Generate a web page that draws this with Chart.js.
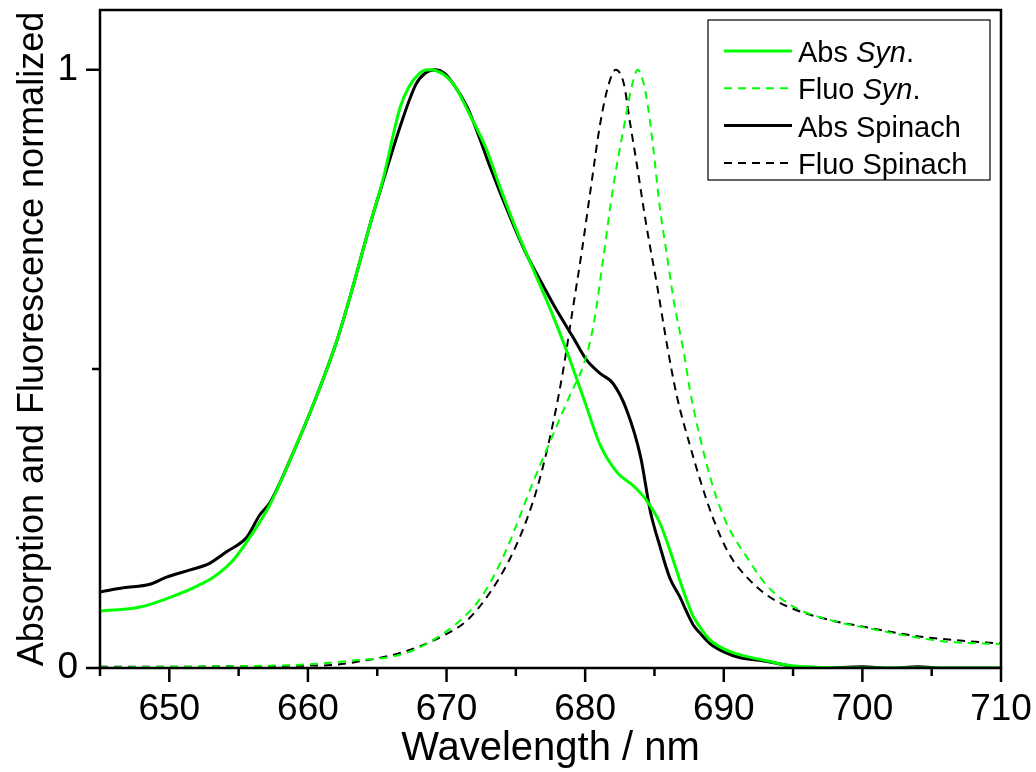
<!DOCTYPE html>
<html>
<head>
<meta charset="utf-8">
<script src="https://cdn.jsdelivr.net/npm/chart.js@4"></script>
<style>
  body { margin: 0; background: #fff; }
  canvas { display: block; }
</style>
</head>
<body>
<canvas id="spectra" width="1036" height="772"></canvas>
<script>
// wavelength (nm) / normalized value
const absSynNm  = [645.0, 647.9, 650.5, 652.0, 653.2, 654.6, 656.0, 657.3, 658.9, 660.6, 662.1, 663.3, 664.5, 665.4, 666.65, 667.3, 668.0, 668.6, 669.3, 670.5, 671.7, 672.9, 673.9, 675.1, 676.3, 677.5, 678.7, 679.9, 681.1, 682.3, 683.5, 684.4, 685.4, 686.4, 686.85, 687.3, 687.8, 688.3, 689.0, 690.0, 691.2, 693.1, 694.8, 697.0, 700.0, 705.0, 710.0];
const absSynVal = [0.095, 0.102, 0.122, 0.137, 0.152, 0.180, 0.225, 0.275, 0.358, 0.453, 0.548, 0.642, 0.743, 0.815, 0.937, 0.972, 0.993, 1.000, 0.998, 0.976, 0.924, 0.866, 0.801, 0.729, 0.664, 0.599, 0.528, 0.450, 0.372, 0.327, 0.304, 0.281, 0.242, 0.177, 0.145, 0.115, 0.086, 0.068, 0.047, 0.032, 0.022, 0.012, 0.004, 0.001, 0.000, 0.000, 0.000];

const fluoSynNm  = [645.0, 650.0, 655.0, 660.0, 663.0, 666.65, 668.6, 671.0, 672.7, 674.3, 676.3, 677.7, 678.9, 679.9, 680.6, 681.3, 682.0, 682.8, 683.4, 683.8, 684.4, 684.9, 685.4, 685.9, 686.4, 687.1, 687.57, 688.29, 689.25, 690.2, 691.7, 693.1, 695.0, 697.7, 700.3, 703.2, 706.1, 710.0];
const fluoSynVal = [0.001, 0.002, 0.003, 0.006, 0.012, 0.022, 0.041, 0.080, 0.125, 0.197, 0.314, 0.391, 0.456, 0.508, 0.573, 0.684, 0.801, 0.905, 0.976, 1.000, 0.957, 0.872, 0.768, 0.690, 0.613, 0.530, 0.463, 0.385, 0.301, 0.242, 0.184, 0.138, 0.103, 0.080, 0.067, 0.054, 0.044, 0.040];

const absSpinNm  = [645.0, 646.7, 648.6, 649.8, 651.5, 652.9, 654.1, 655.6, 656.5, 657.3, 658.9, 660.6, 662.1, 663.3, 664.5, 665.4, 666.65, 667.8, 668.5, 669.2, 669.8, 670.5, 671.5, 672.4, 673.1, 674.8, 675.8, 677.0, 677.9, 679.1, 680.1, 681.1, 682.0, 683.0, 684.0, 684.7, 685.4, 686.1, 686.85, 687.3, 687.8, 688.3, 689.0, 690.0, 691.2, 692.8, 693.8, 694.4, 695.0, 697.0, 700.0, 702.0, 704.0, 706.0, 710.0];
const absSpinVal = [0.127, 0.134, 0.140, 0.152, 0.164, 0.175, 0.194, 0.219, 0.255, 0.278, 0.358, 0.453, 0.548, 0.642, 0.743, 0.812, 0.905, 0.976, 0.995, 1.000, 0.995, 0.976, 0.937, 0.885, 0.840, 0.742, 0.690, 0.638, 0.600, 0.554, 0.515, 0.492, 0.476, 0.431, 0.353, 0.262, 0.203, 0.151, 0.118, 0.095, 0.072, 0.058, 0.041, 0.027, 0.017, 0.012, 0.008, 0.005, 0.001, 0.000, 0.002, 0.000, 0.002, 0.000, 0.000];

const fluoSpinNm  = [645.0, 650.0, 655.0, 660.0, 661.8, 664.2, 666.65, 669.5, 671.5, 673.1, 674.6, 675.8, 676.7, 677.7, 678.4, 679.1, 679.8, 680.4, 681.1, 681.7, 682.2, 682.8, 683.2, 683.7, 684.4, 685.2, 685.9, 686.6, 687.6, 688.3, 689.25, 690.4, 691.7, 693.1, 695.0, 697.7, 700.3, 703.7, 706.5, 710.0];
const fluoSpinVal = [0.002, 0.002, 0.003, 0.004, 0.005, 0.013, 0.025, 0.051, 0.080, 0.125, 0.184, 0.249, 0.314, 0.411, 0.496, 0.599, 0.703, 0.801, 0.912, 0.976, 1.000, 0.976, 0.917, 0.846, 0.742, 0.638, 0.541, 0.456, 0.369, 0.314, 0.249, 0.190, 0.151, 0.122, 0.099, 0.080, 0.068, 0.054, 0.047, 0.041];

const seriesLabels = ['Abs Syn.', 'Fluo Syn.', 'Abs Spinach', 'Fluo Spinach'];
const xMajorTicks = [650, 660, 670, 680, 690, 700, 710];
const xMinorTicks = [645, 655, 665, 675, 685, 695, 705];
const yMajorTicks = [0, 1];
const yMinorTicks = [0.5];

const FONT = "'Liberation Sans', Arial, sans-serif";
const GREEN = '#00ff00';

function pts(xs, ys) {
    return xs.map((x, i) => ({ x: x, y: ys[i] }));
}

// no extra room for overhanging tick labels
function noPad(s) {
    s.paddingTop = 0; s.paddingBottom = 0; s.paddingLeft = 0; s.paddingRight = 0;
}

// frame, tick marks and the legend with italic "Syn"
const decorations = {
    id: 'decorations',
    afterDraw(chart) {
        const ctx = chart.ctx;
        const a = chart.chartArea;
        const xs = chart.scales.x, ys = chart.scales.y;
        ctx.save();
        ctx.strokeStyle = '#000';
        ctx.lineWidth = 2.5;
        ctx.strokeRect(a.left, a.top, a.right - a.left, a.bottom - a.top);

        ctx.beginPath();
        xMajorTicks.forEach(v => { const p = xs.getPixelForValue(v); ctx.moveTo(p, a.bottom); ctx.lineTo(p, a.bottom + 14); });
        xMinorTicks.forEach(v => { const p = xs.getPixelForValue(v); ctx.moveTo(p, a.bottom); ctx.lineTo(p, a.bottom + 8); });
        yMajorTicks.forEach(v => { const p = ys.getPixelForValue(v); ctx.moveTo(a.left, p); ctx.lineTo(a.left - 14, p); });
        yMinorTicks.forEach(v => { const p = ys.getPixelForValue(v); ctx.moveTo(a.left, p); ctx.lineTo(a.left - 8, p); });
        ctx.stroke();

        // legend box
        ctx.lineWidth = 1.2;
        ctx.strokeRect(708, 20, 282, 160);
        const rows = [
            { ds: 0, parts: [['Abs ', ''], ['Syn', 'italic '], ['.', '']] },
            { ds: 1, parts: [['Fluo ', ''], ['Syn', 'italic '], ['.', '']] },
            { ds: 2, parts: [['Abs Spinach', '']] },
            { ds: 3, parts: [['Fluo Spinach', '']] },
        ];
        rows.forEach((r, i) => {
            const d = chart.data.datasets[r.ds];
            const yLine = 51 + i * 37.3;
            ctx.beginPath();
            ctx.strokeStyle = d.borderColor;
            ctx.lineWidth = d.borderWidth;
            ctx.setLineDash(d.borderDash || []);
            ctx.moveTo(724, yLine);
            ctx.lineTo(792, yLine);
            ctx.stroke();
            ctx.setLineDash([]);
            let x = 798;
            ctx.fillStyle = '#000';
            ctx.textBaseline = 'alphabetic';
            r.parts.forEach(([t, style]) => {
                ctx.font = style + '29px ' + FONT;
                ctx.fillText(t, x, yLine + 11);
                x += ctx.measureText(t).width;
            });
        });
        ctx.restore();
    }
};

new Chart(document.getElementById('spectra'), {
    type: 'line',
    data: {
        datasets: [
            { label: seriesLabels[0], data: pts(absSynNm, absSynVal), borderColor: GREEN, borderWidth: 3 },
            { label: seriesLabels[1], data: pts(fluoSynNm, fluoSynVal), borderColor: GREEN, borderWidth: 2, borderDash: [8, 6] },
            { label: seriesLabels[2], data: pts(absSpinNm, absSpinVal), borderColor: '#000', borderWidth: 3 },
            { label: seriesLabels[3], data: pts(fluoSpinNm, fluoSpinVal), borderColor: '#000', borderWidth: 2, borderDash: [8, 6] },
        ]
    },
    options: {
        responsive: false,
        animation: false,
        parsing: false,
        elements: {
            point: { radius: 0 },
            line: { cubicInterpolationMode: 'monotone', fill: false }
        },
        layout: { padding: { top: 10, right: 35, left: 0, bottom: 0 } },
        plugins: { legend: { display: false }, tooltip: { enabled: false } },
        scales: {
            x: {
                type: 'linear',
                min: 645,
                max: 710,
                afterBuildTicks: s => { s.ticks = xMajorTicks.map(v => ({ value: v })); },
                afterFit: s => { s.height = 104; noPad(s); },
                grid: { display: false, drawTicks: false },
                border: { display: false },
                ticks: { color: '#000', font: { family: FONT, size: 37 }, padding: 20, maxRotation: 0, autoSkip: false },
                title: {
                    display: true,
                    text: 'Wavelength / nm',
                    color: '#000',
                    font: { family: FONT, size: 40, lineHeight: 1 },
                    padding: { top: 0, bottom: 3 }
                }
            },
            y: {
                type: 'linear',
                min: 0,
                max: 1.1,
                afterBuildTicks: s => { s.ticks = yMajorTicks.map(v => ({ value: v })); },
                afterFit: s => { s.width = 100; noPad(s); },
                grid: { display: false, drawTicks: false },
                border: { display: false },
                ticks: { color: '#000', font: { family: FONT, size: 37 }, padding: 22, autoSkip: false },
                title: {
                    display: true,
                    text: 'Absorption and Fluorescence normalized',
                    color: '#000',
                    font: { family: FONT, size: 36, lineHeight: 1 },
                    padding: { top: 15, bottom: 0 }
                }
            }
        }
    },
    plugins: [decorations]
});
</script>
</body>
</html>
